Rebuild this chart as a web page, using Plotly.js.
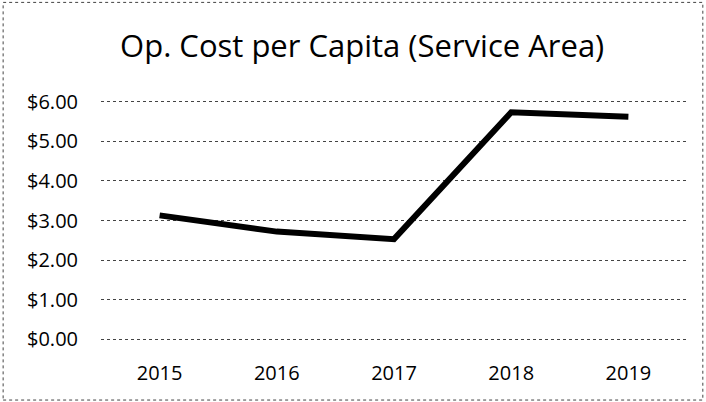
<!DOCTYPE html>
<html>
<head>
<meta charset="utf-8">
<script src="https://cdn.plot.ly/plotly-3.0.1.min.js"></script>
<style>html,body{margin:0;padding:0;background:#fff;}#chart{width:706px;height:402px;}</style>
</head>
<body>
<div id="chart"></div>
<script>
const years = ['2015', '2016', '2017', '2018', '2019'];
const costPerCapita = [3.13, 2.72, 2.53, 5.73, 5.62];
const chartTitle = 'Op. Cost per Capita (Service Area)';

const trace = {
  x: years,
  y: costPerCapita,
  type: 'scatter',
  mode: 'lines',
  line: {color: '#000000', width: 6},
  hoverinfo: 'skip'
};

const layout = {
  width: 706,
  height: 402,
  margin: {l: 101, r: 19, t: 100, b: 61},
  paper_bgcolor: '#ffffff',
  plot_bgcolor: '#ffffff',
  showlegend: false,
  font: {family: 'Open Sans, sans-serif', color: '#000000'},
  title: {
    text: chartTitle,
    font: {family: 'Open Sans, sans-serif', size: 31, color: '#000000'},
    x: 0.513, xanchor: 'center',
    y: 0.885, yanchor: 'middle'
  },
  xaxis: {
    type: 'category',
    range: [-0.5, 4.5],
    showgrid: false,
    showline: false,
    zeroline: false,
    ticks: 'outside',
    ticklen: 14,
    tickcolor: 'rgba(0,0,0,0)',
    tickfont: {family: 'Open Sans, sans-serif', size: 20, color: '#000000'}
  },
  yaxis: {
    range: [-0.04, 6.04],
    dtick: 1,
    tick0: 0,
    tickprefix: '$',
    tickformat: '.2f',
    showgrid: true,
    gridcolor: '#444444',
    griddash: 'dot',
    gridwidth: 1,
    zeroline: false,
    showline: false,
    ticks: 'outside',
    ticklen: 18,
    tickcolor: 'rgba(0,0,0,0)',
    tickfont: {family: 'Open Sans, sans-serif', size: 20, color: '#000000'}
  },
  shapes: [{
    type: 'rect', xref: 'paper', yref: 'paper',
    x0: -0.167, x1: 1.027, y0: -0.245, y1: 1.405,
    line: {color: '#444444', width: 1, dash: 'dot'}
  }]
};

Plotly.newPlot('chart', [trace], layout, {displayModeBar: false, staticPlot: true});
</script>
</body>
</html>
